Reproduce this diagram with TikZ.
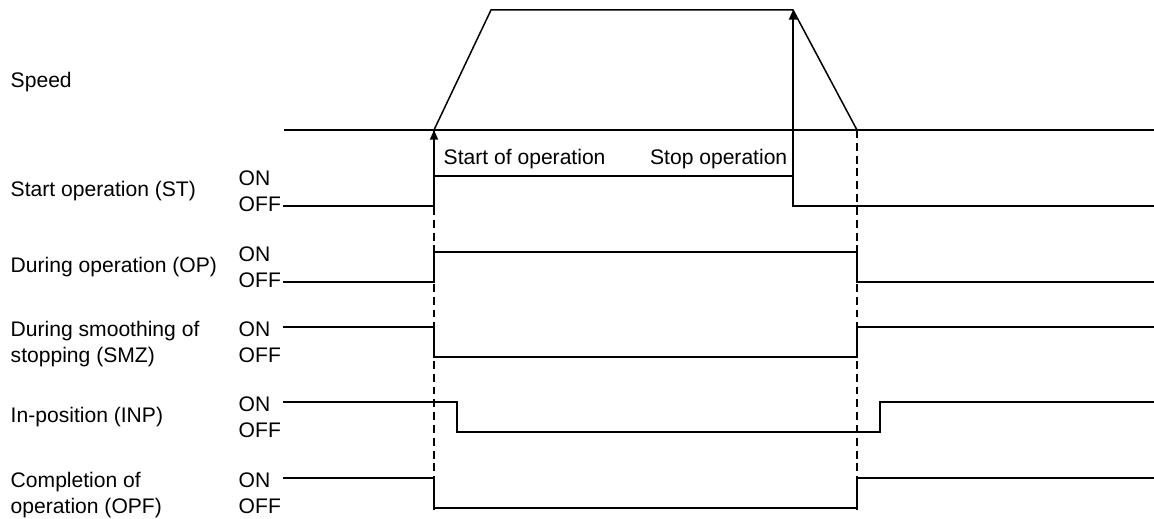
\documentclass[tikz,border=0pt]{standalone}
\usepackage{fontspec}
\setmainfont{Liberation Sans}
\usetikzlibrary{arrows.meta}

\begin{document}
\begin{tikzpicture}[x=0.02cm,y=-0.02cm,line width=0.85pt,
  font=\fontsize{12}{14.8}\selectfont,
  lbl/.style={anchor=base west,inner sep=0pt},
  guide/.style={line width=0.7pt,dash pattern=on 4.5pt off 2.8pt},
  trig/.style={-{Triangle[length=5.5pt,width=4.6pt]}}]
\useasboundingbox (0,0) rectangle (1154,519);
% speed profile
\draw[line width=1.1pt] (284,130) -- (1154,130);
\draw (434,130) -- (491,10) -- (793,10) -- (857,130);
\node[lbl] (speed) at (10,88) {Speed};
% timing guides
\draw[guide] (434,130) -- (434,512);
\draw[guide] (857,130) -- (857,512);
\draw[trig] (434,176) -- (434,130);
\draw[trig] (793,176) -- (793,10);
\node[lbl] (start) at (443,165) {Start of operation};
\node[lbl,anchor=base east] (stop) at (788,165) {Stop operation};
% signal names
\node[lbl] (st) at (10,197) {Start operation (ST)};
\node[lbl] (op) at (10,273) {During operation (OP)};
\node[lbl,align=left] (smz) at (10,363) {During smoothing of\\stopping (SMZ)};
\node[lbl] (inp) at (10,423) {In-position (INP)};
\node[lbl,align=left] (opf) at (10,514) {Completion of\\operation (OPF)};
\foreach \y/\n in {176/st,252/op,327/smz,402/inp,478/opf} {
  \node[lbl] (\n on) at (238,\y+10) {ON};
  \node[lbl] (\n off) at (238,\y+36) {OFF};
}
% signals
\draw (283,206) -- (434,206) -- (434,176) -- (793,176) -- (793,206) -- (1154,206);
\draw (283,282) -- (434,282) -- (434,252) -- (857,252) -- (857,282) -- (1154,282);
\draw (283,327) -- (434,327) -- (434,357) -- (857,357) -- (857,327) -- (1154,327);
\draw (283,402) -- (457,402) -- (457,432) -- (880,432) -- (880,402) -- (1154,402);
\draw (283,478) -- (434,478) -- (434,508) -- (857,508) -- (857,478) -- (1154,478);
\end{tikzpicture}
\end{document}
